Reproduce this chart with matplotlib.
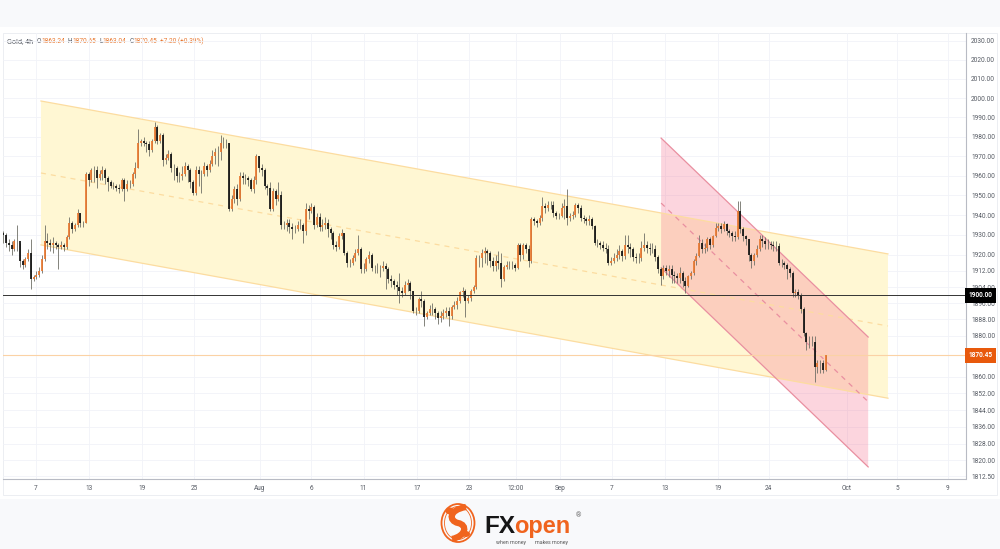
import matplotlib
matplotlib.use("Agg")
import matplotlib.pyplot as plt
from matplotlib.patches import Ellipse, PathPatch, Polygon, Rectangle
from matplotlib.path import Path
from matplotlib.ticker import FixedLocator, FixedFormatter, NullLocator

plt.rcParams['font.family'] = ['Roboto', 'DejaVu Sans']

# gold 4h candles
closes = [1930,1926,1925,1923,1927,1927,1917,1915,1918,1921,
          1908,1909,1910,1912,1918,1927,1926,1925,1926,1925,
          1924,1925,1924,1929,1936,1933,1935,1941,1936,1936,
          1961,1958,1963,1963,1959,1961,1963,1959,1957,1955,
          1955,1954,1953,1958,1953,1956,1956,1961,1964,1977,
          1978,1977,1976,1973,1978,1985,1978,1981,1968,1969,
          1971,1964,1964,1960,1960,1961,1965,1963,1957,1951,
          1963,1961,1961,1965,1963,1966,1970,1972,1972,1977,
          1977,1977,1943,1948,1953,1948,1960,1959,1959,1958,
          1953,1958,1970,1964,1963,1955,1954,1943,1952,1948,
          1950,1935,1935,1936,1934,1933,1933,1935,1935,1932,
          1943,1942,1944,1935,1939,1934,1935,1936,1933,1931,
          1925,1924,1929.5,1931,1921,1916,1916,1918.6,1921,1923,
          1913,1913,1918,1920,1913.5,1913.5,1913.5,1913.5,1914.5,1913,
          1908,1907,1905,1904,1902,1901,1905,1906,1902,1892,
          1892,1898,1897,1889,1891,1893,1893,1891,1888.5,1889.5,
          1891,1892,1889.5,1894,1895,1897,1901.5,1902,1897,1898.5,
          1902,1904,1918.6,1918.6,1921,1922,1921,1917,1914.5,1917,
          1916,1908,1914,1915,1915,1915,1913.5,1925,1920,1925,
          1923,1917,1938,1937,1936,1938.5,1944.5,1943.5,1945,1945,
          1941,1939.5,1939.5,1943.5,1944.5,1938.5,1939.5,1940,1945,1943.5,
          1938.5,1938,1937,1938,1934.5,1926,1926,1925,1923.5,1923,
          1916,1917,1918.6,1920,1922,1919.5,1925,1924,1923,1919,
          1918.6,1918.6,1923.5,1925,1923.5,1923,1923,1919,1913,1909.5,
          1913.7,1912,1913,1910,1909.5,1908.7,1911,1907,1904.5,1909.5,
          1911,1917,1919.5,1926,1923,1923.7,1928,1925,1929.5,1933.7,
          1934.5,1933,1935.3,1932,1931,1929.5,1929,1942,1933,1929.5,
          1928,1920,1917,1920,1923,1928,1927,1925.5,1925.5,1925,
          1924.5,1924.5,1916,1916,1915,1913,1911,1901,1901.5,1900.3,
          1893,1881.5,1877,1877,1877,1865,1866.5,1866.5,1863.24,1870.45]
highs = [1932,1931,1928,1927,1928,1935,1926,1918,1919,1923,
         1928,1910,1912,1914,1920,1935,1931,1928,1929,1927,
         1926,1927,1926,1930,1939,1937,1936,1943,1941,1937,
         1962,1962,1964,1965,1965,1963,1965,1964,1960,1958,
         1957,1956,1956,1959,1959,1958,1958,1962,1967,1984,
         1979,1980,1978,1978,1979,1987.5,1986,1982,1982,1971,
         1973,1972,1966,1965,1962,1965,1967,1966,1964,1958,
         1965,1965,1963,1967,1966,1968,1973,1974,1975,1981,
         1980,1979,1977,1950,1955,1956,1962,1962,1961,1960,
         1959,1960,1971,1970,1966,1964,1956,1957,1954,1953,
         1957,1952,1937,1938,1938,1936,1935,1937,1938,1936,
         1946,1945,1946,1945,1941,1941,1938,1939,1938,1934,
         1932,1927,1931,1933,1931,1922,1918,1920,1923,1930,
         1924,1916,1919,1922,1921,1915,1916,1915,1917,1916,
         1914,1910,1908,1907,1911,1904,1907,1908,1907,1902,
         1894,1899,1902,1898,1892,1895,1896,1894,1892,1892,
         1893,1894,1894,1895,1897,1899,1902,1904,1903,1900,
         1903,1905,1920,1920,1923,1924,1923,1922,1919,1920,
         1922,1921,1915,1917,1917,1917,1916,1926,1926,1926,
         1926,1925,1939,1939,1938,1940,1949,1946,1947,1947,
         1947,1942,1941,1946,1948,1953,1941,1942,1946,1946,
         1945,1940,1939,1940,1939,1935,1928,1927,1927,1926,
         1925,1919,1921,1923,1925,1923,1930,1930,1926,1924,
         1921,1921,1927,1931,1927,1926,1926,1925,1920,1914,
         1915,1915,1915,1915,1912,1911,1914,1912,1909,1910,
         1912,1918,1921,1930,1928,1926,1929,1929,1930,1936,
         1936,1936,1937,1936,1933,1932,1932,1947,1947,1934,
         1930,1928,1921,1921,1925,1930,1930,1929,1928,1927,
         1927,1927,1926,1918,1917,1916,1914,1912,1903,1903,
         1901,1894,1882,1880,1880,1880,1868,1868,1868,1870.65]
lows = [1926,1924,1922,1920,1922,1922,1914,1913,1914,1917,
        1903,1907,1908,1909,1911,1917,1923,1922,1921,1923,
        1913,1923,1922,1923,1928,1931,1932,1934,1934,1934,
        1936,1955,1957,1957,1954,1958,1958,1956,1952,1954,
        1953,1952,1951,1952,1947,1952,1954,1955,1959,1964,
        1975,1975,1972,1970,1972,1977,1976,1977,1965,1966,
        1968,1962,1958,1957,1957,1958,1960,1957,1954,1950,
        1950,1955,1951,1960,1960,1962,1965,1966,1965,1968,
        1974,1974,1942,1942,1946,1945,1947,1956,1956,1955,
        1952,1951,1956,1962,1960,1953,1950,1942,1942,1945,
        1947,1933,1933,1932,1931,1928,1931,1932,1933,1926,
        1930,1938,1941,1933,1934,1932,1932,1933,1929,1928,
        1923,1922,1923,1928,1920,1914,1914,1915,1917,1920,
        1911,1911,1912,1916,1912,1911,1911,1909,1912,1903,
        1906,1904,1903,1900,1896,1899,1900,1902,1898,1891,
        1890,1891,1894,1885,1888,1890,1890,1888,1886,1887,
        1888,1889,1885,1888,1893,1893,1896,1899,1889,1896,
        1897,1901,1903,1914,1914,1916,1915,1914,1912,1912,
        1913,1904,1907,1913,1913,1913,1912,1913,1917,1918,
        1921,1914,1916,1935,1934,1935,1937,1941,1942,1943,
        1939,1938,1938,1939,1938,1935,1937,1938,1939,1941,
        1937,1936,1935,1935,1933,1925,1924,1923,1922,1921,
        1915,1915,1916,1917,1918,1917,1918,1921,1919,1917,
        1916,1916,1917,1922,1921,1920,1921,1917,1911,1905,
        1908,1910,1909,1906,1906,1906,1906,1904,1901,1904,
        1908,1910,1915,1919,1921,1921,1922,1923,1924,1929,
        1932,1931,1932,1930,1929,1927,1927,1928,1931,1927,
        1925,1917,1913.5,1915,1919,1922,1924,1923,1923,1923,
        1922,1922,1915,1914,1913,1908,1909,1899,1899,1898,
        1891,1880,1873,1874,1875,1857.5,1862,1862,1862,1863.04]
first_open = 1931

price_ticks = [2030,2020,2010,2000,1990,1980,1970,1960,1950,1940,1930,1920,1912,
               1904,1896,1888,1880,1860,1852,1844,1836,1828,1820,1812.5]
time_pos = [11.9,31.2,50.4,69.5,93.3,111.9,131,150.3,169.3,186.4,202.4,221.3,240.6,259.9,278.3,306.8,325,343.5]
time_labels = ['7','13','19','25','Aug','6','11','17','23','12:00','Sep','7','13','19','24','Oct','5','9']

# channels: (bar position, price)
yellow_top = [(13.7, 1998.5), (321.7, 1920.5)]
yellow_mid = [(13.7, 1961.4), (321.7, 1884.8)]
yellow_low = [(13.7, 1925), (321.7, 1849.7)]
pink_top = [(239.2, 1979.3), (314.5, 1879.4)]
pink_mid = [(239.2, 1946.1), (314.5, 1848)]
pink_low = [(239.2, 1913.5), (314.5, 1816.9)]

level = 1900
last = 1870.45

W, H = 1000, 549
UP = '#e8772e'
DOWN = '#111111'
WICK = '#6f6f66'
AXC = '#b8bbc4'
TXT = '#555a63'
BRAND = '#f0641e'

fig = plt.figure(figsize=(10, 5.49), dpi=100, facecolor='#f8f9fb')

# page layer in pixel coordinates
bg = fig.add_axes([0, 0, 1, 1], zorder=0)
bg.set_xlim(0, W)
bg.set_ylim(H, 0)
bg.axis('off')
bg.add_patch(Rectangle((0, 27), W, 472, fc='white', ec='none'))
bg.add_patch(Rectangle((3, 33), 994, 461.5, fc='white', ec='#eceef2', lw=0.7))

L, R, T, B = 3.3, 965.5, 33, 479
ax = fig.add_axes([L / W, 1 - B / H, (R - L) / W, (B - T) / H], zorder=1)
ax.patch.set_alpha(0)
ax.set_yscale('log')
ax.set_ylim(1811.2, 2034.2)
ax.set_xlim(0, (R - L) / 2.75)
ax.yaxis.tick_right()
ax.yaxis.set_major_locator(FixedLocator(price_ticks))
ax.yaxis.set_major_formatter(FixedFormatter(['%.2f' % p for p in price_ticks]))
ax.yaxis.set_minor_locator(NullLocator())
ax.set_xticks(time_pos)
ax.set_xticklabels(time_labels)
ax.tick_params(axis='both', length=0, labelsize=4.7, colors=TXT)
ax.tick_params(axis='y', pad=4)
ax.tick_params(axis='x', pad=4.5)
ax.grid(True, color='#f1f3f8', lw=0.6)
ax.set_axisbelow(True)
for s in ['top', 'left']:
    ax.spines[s].set_visible(False)
for s in ['right', 'bottom']:
    ax.spines[s].set_color(AXC)
    ax.spines[s].set_linewidth(0.8)


def channel(top, mid, low, fill, line, alpha):
    ax.add_patch(Polygon([top[0], top[1], low[1], low[0]], closed=True, fc=fill, alpha=alpha, ec='none', zorder=2))
    ax.plot(*zip(*top), color=line, lw=0.9, zorder=3)
    ax.plot(*zip(*low), color=line, lw=0.9, zorder=3)
    ax.plot(*zip(*mid), color=line, lw=0.9, ls=(0, (4, 4)), zorder=3)


channel(yellow_top, yellow_mid, yellow_low, '#fff7d3', '#fcdca0', 1)
channel(pink_top, pink_mid, pink_low, '#f5698a', '#e98fa0', 0.28)

# candles
xs = list(range(len(closes)))
opens = [first_open] + closes[:-1]
ax.vlines(xs, lows, highs, color=WICK, lw=0.6, zorder=4)
for x, o, c in zip(xs, opens, closes):
    ax.vlines(x, min(o, c), max(o, c), color=UP if c >= o else DOWN, lw=1.25, zorder=5)

ax.axhline(level, color='#333333', lw=0.7, zorder=6)
ax.axhline(last, color='#fbd2a5', lw=0.8, zorder=3)


def price_box(p, text, fc):
    ax.annotate(text, xy=(1, p), xycoords=('axes fraction', 'data'), xytext=(10.8, 0), textcoords='offset points',
                ha='center', va='center', fontsize=4.7, color='white', fontweight='bold', zorder=10,
                annotation_clip=False,
                bbox=dict(boxstyle='square,pad=0.55', fc=fc, ec='none'))


price_box(level, '1900.00', '#000000')
price_box(last, '1870.45', '#e8590c')

# legend line
parts = [('Gold, 4h', TXT, 7, 5.2), ('O', TXT, 37, 4.7), ('1863.24', UP, 41, 4.7), ('H', TXT, 68, 4.7),
         ('1870.65', UP, 72.5, 4.7), ('L', TXT, 99, 4.7), ('1863.04', UP, 102.5, 4.7), ('C', TXT, 129.5, 4.7),
         ('1870.45', UP, 133.5, 4.7), ('+7.20 (+0.39%)', UP, 160.5, 4.7)]
for s, col, px, fs in parts:
    bg.text(px, 41.5, s, color=col, fontsize=fs, va='center', ha='left')

# logo
bg.add_patch(Ellipse((458, 523), 33, 38, fc='none', ec=BRAND, lw=1.3))
bg.add_patch(Ellipse((458, 523), 27, 33, fc='none', ec=BRAND, lw=0.6))
swirl = Path([(466, 507), (448, 510), (449, 521), (458, 523), (468, 525), (466, 536), (452, 539)],
             [Path.MOVETO, Path.CURVE4, Path.CURVE4, Path.CURVE4, Path.CURVE4, Path.CURVE4, Path.CURVE4])
bg.add_patch(PathPatch(swirl, fc='none', ec=BRAND, lw=4.5))
bg.add_patch(Ellipse((450, 511), 9, 7, fc=BRAND, ec='none'))
bg.add_patch(Ellipse((466, 534), 8, 6, fc=BRAND, ec='none'))
bg.text(484.5, 533, 'FX', color='#161616', fontsize=17.5, fontweight='bold', family='Liberation Sans', va='baseline', ha='left')
bg.text(514.5, 533, 'open', color=BRAND, fontsize=17, fontweight='bold', family='Liberation Sans', va='baseline', ha='left')
bg.text(496, 542.5, 'when money', color='#555555', fontsize=3.8, va='center', ha='left')
bg.text(535, 542.5, 'makes money', color='#555555', fontsize=3.8, va='center', ha='left')
bg.text(578, 516, '®', color='#666666', fontsize=5, va='center', ha='center')

fig.savefig('out.png', dpi=100, facecolor=fig.get_facecolor())
